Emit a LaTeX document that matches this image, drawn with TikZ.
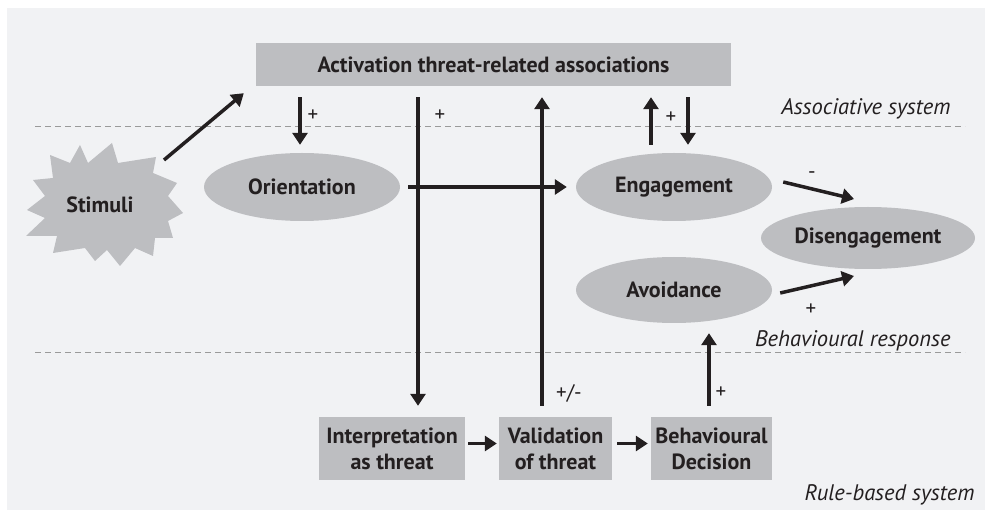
\documentclass[tikz,border=0pt]{standalone}
\usepackage{fontspec}
\setmainfont{PT Sans}
\usepackage{tikz}
\usetikzlibrary{arrows.meta,calc,shapes.geometric}
\definecolor{bggray}{HTML}{F1F2F4}
\definecolor{boxgray}{HTML}{BDBEC1}
\definecolor{ink}{HTML}{231F20}
\definecolor{dashgray}{HTML}{9A9A9A}

\begin{document}
\begin{tikzpicture}[x=1pt,y=-1pt,
  box/.style={fill=boxgray, inner sep=0pt, text=ink, align=center,
    font=\fontsize{22}{26}\selectfont\bfseries},
  oval/.style={ellipse, fill=boxgray, inner sep=0pt, text=ink,
    font=\fontsize{22}{26}\selectfont\bfseries},
  arr/.style={-{Triangle[length=12pt,width=15pt]}, line width=3.5pt, draw=ink},
  sign/.style={text=ink, font=\fontsize{21}{21}\selectfont},
  sysname/.style={anchor=east, text=ink, font=\fontsize{22.5}{24}\selectfont\itshape},
  sep/.style={draw=dashgray, line width=0.8pt, dash pattern=on 6pt off 4pt}]
\useasboundingbox (0,0) rectangle (985,510);
\fill[white] (0,0) rectangle (985,510);
\fill[bggray] (7,8) rectangle (985,510);

% system borders
\draw[sep] (35,126) -- (965,126);
\draw[sep] (35,352) -- (965,352);
\node[sysname] (assocsys) at (954,109) {Associative system};
\node[sysname] (behresp) at (954,341) {Behavioural response};
\node[sysname] (rulesys) at (978,495) {Rule-based system};

% stimuli
\fill[boxgray] (80,145) -- (88,163) -- (112,143) -- (118,163) -- (156,157) -- (153,173)
  -- (177,183) -- (168,196) -- (183,213) -- (168,221) -- (173,238) -- (155,238)
  -- (153,256) -- (135,248) -- (120,266) -- (107,250) -- (95,261) -- (85,248)
  -- (53,253) -- (57,236) -- (26,236) -- (45,218) -- (27,210) -- (45,196)
  -- (33,180) -- (53,178) -- (50,155) -- (70,163) -- cycle;
\node[text=ink, font=\fontsize{22}{26}\selectfont\bfseries] (stimuli) at (100,205) {Stimuli};

\node[box, minimum width=475pt, minimum height=43pt] (assoc) at (493.5,64.5) {Activation threat-related associations};
\node[oval, minimum width=196pt, minimum height=68pt] (orient) at (302,187) {Orientation};
\node[oval, minimum width=196pt, minimum height=68pt] (engage) at (674,187) {Engagement};
\node[oval, minimum width=214pt, minimum height=62pt] (disen) at (868,238) {Disengagement};
\node[oval, minimum width=196pt, minimum height=66pt] (avoid) at (674,290) {Avoidance};

\node[box, minimum width=146pt, minimum height=63pt] (interp) at (392,448.5) {Interpretation\\as threat};
\node[box, minimum width=113pt, minimum height=63pt] (valid) at (555.5,448.5) {Validation\\of threat};
\node[box, minimum width=121pt, minimum height=63pt] (behdec) at (711.5,448.5) {Behavioural\\Decision};

\coordinate (xa) at (300,0);
\coordinate (xb) at (418,0);
\coordinate (xc) at (542,0);
\coordinate (xd) at (651,0);
\coordinate (xe) at (688,0);
\coordinate (xf) at (709,0);

\draw[arr] ($(stimuli)+(64,-45)$) -- ($(assoc.south west)+(-12,7)$);
\draw[arr, shorten <=11pt, shorten >=8pt] (assoc.south -| xa) -- (orient.north -| xa);
\draw[arr, shorten <=11pt, shorten >=11pt] (assoc.south -| xb) -- (interp.north -| xb);
\draw[arr, shorten <=11pt, shorten >=11pt] (valid.north -| xc) -- (assoc.south -| xc);
\draw[arr, shorten <=8pt, shorten >=11pt] (engage.north -| xd) -- (assoc.south -| xd);
\draw[arr, shorten <=11pt, shorten >=8pt] (assoc.south -| xe) -- (engage.north -| xe);
\draw[arr, shorten <=8pt, shorten >=9pt] (orient.east) -- (engage.west);
\draw[arr] ($(engage.east)+(11,-5)$) -- ($(disen.center)+(-14,-39)$);
\draw[arr] ($(avoid.east)+(8,3)$) -- ($(disen.center)+(-14,38)$);
\draw[arr, shorten <=11pt, shorten >=10pt] (behdec.north -| xf) -- (avoid.south -| xf);
\draw[arr, shorten <=3pt, shorten >=2pt] ([yshift=5pt]interp.east) -- ([yshift=5pt]valid.west);
\draw[arr, shorten <=5pt, shorten >=3pt] ([yshift=5pt]valid.east) -- ([yshift=5pt]behdec.west);

\node[sign] (plusa) at (313,116) {+};
\node[sign] (plusb) at (440,116) {+};
\node[sign] (plusc) at (671,118) {+};
\node[sign] (minusd) at (812,175) {-};
\node[sign] (pluse) at (811,310) {+};
\node[sign] (pmval) at (569,393) {+/-};
\node[sign] (plusf) at (721,393) {+};
\end{tikzpicture}
\end{document}
